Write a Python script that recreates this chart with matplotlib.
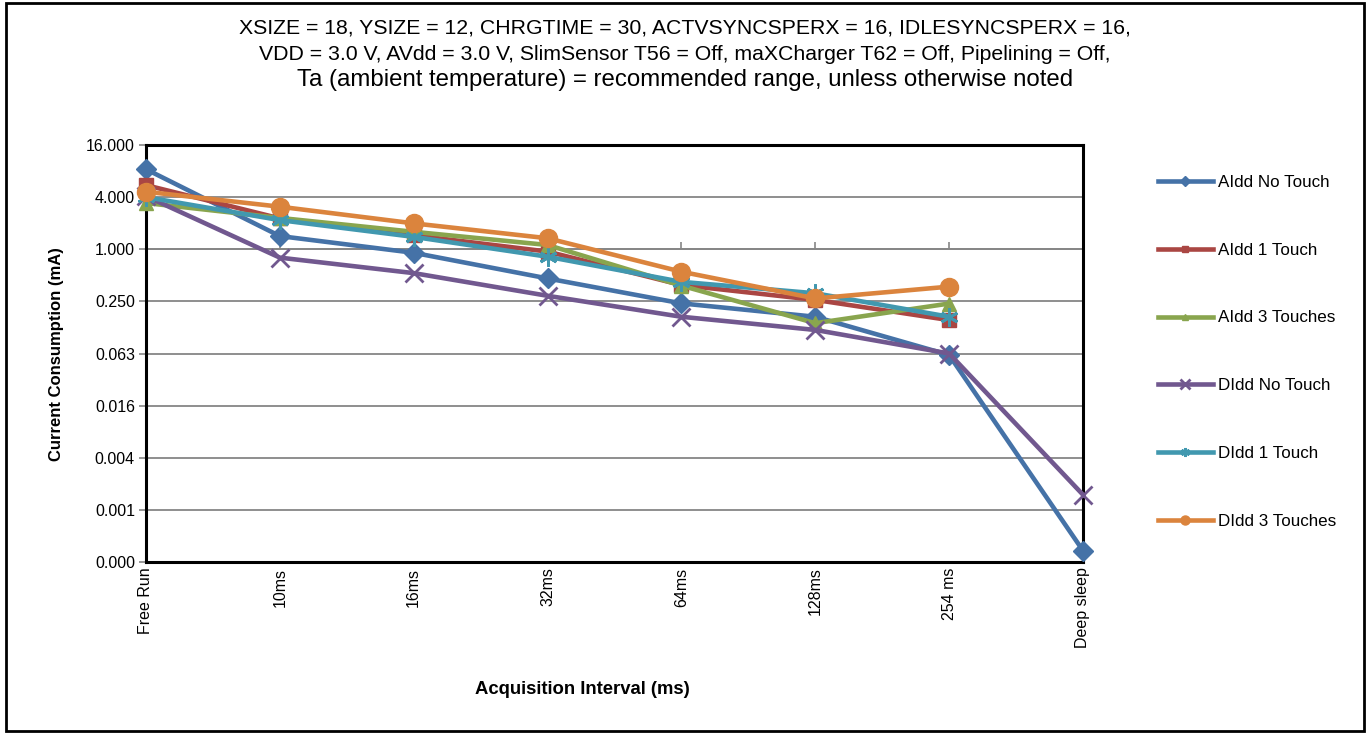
import numpy as np
import matplotlib
matplotlib.use('Agg')
import matplotlib.pyplot as plt
from matplotlib.patches import Rectangle

plt.rcParams['font.family'] = ['Liberation Sans', 'DejaVu Sans']

categories = ['Free Run', '10ms', '16ms', '32ms', '64ms', '128ms', '254 ms', 'Deep sleep']
aidd_no_touch = [8.4, 1.42, 0.91, 0.46, 0.237, 0.166, 0.060, 0.00033]
aidd_1_touch = [5.5, 2.27, 1.45, 0.94, 0.386, 0.26, 0.152, np.nan]
aidd_3_touches = [3.42, 2.3, 1.59, 1.12, 0.38, 0.14, 0.236, np.nan]
didd_no_touch = [4.1, 0.80, 0.53, 0.29, 0.166, 0.117, 0.0625, 0.00146]
didd_1_touch = [4.0, 2.17, 1.39, 0.82, 0.42, 0.31, 0.166, np.nan]
didd_3_touches = [4.62, 3.10, 1.99, 1.34, 0.55, 0.27, 0.37, np.nan]

ytick_vals = [4.0 ** k for k in range(-6, 3)]
ytick_labels = ['0.000', '0.001', '0.004', '0.016', '0.063', '0.250', '1.000', '4.000', '16.000']

title_lines = ['XSIZE = 18, YSIZE = 12, CHRGTIME = 30, ACTVSYNCSPERX = 16, IDLESYNCSPERX = 16,',
               'VDD = 3.0 V, AVdd = 3.0 V, SlimSensor T56 = Off, maXCharger T62 = Off, Pipelining = Off,',
               'Ta (ambient temperature) = recommended range, unless otherwise noted']

series = [
    ('AIdd No Touch', aidd_no_touch, '#4572A7', 'D', 10.5),
    ('AIdd 1 Touch', aidd_1_touch, '#AA4643', 's', 10),
    ('AIdd 3 Touches', aidd_3_touches, '#89A54E', '^', 10),
    ('DIdd No Touch', didd_no_touch, '#71588F', 'x', 13),
    ('DIdd 1 Touch', didd_1_touch, '#4198AF', (6, 2, 0), 13),
    ('DIdd 3 Touches', didd_3_touches, '#DB843D', 'o', 13),
]

W, H = 1369, 734
fig = plt.figure(figsize=(W / 100, H / 100), dpi=100)
ax = fig.add_axes([146 / W, (H - 562) / H, (1083 - 146) / W, (562 - 145) / H])

x = np.arange(len(categories))
for name, vals, col, mk, ms in series:
    ax.plot(x, vals, color=col, lw=3.3, marker=mk, markersize=ms,
            markeredgewidth=2 if mk in ('x', (6, 2, 0)) else 1,
            markeredgecolor=col, label=name, clip_on=False, zorder=3)

ax.set_yscale('log', base=4)
ax.set_ylim(4.0 ** -6, 16)
ax.set_xlim(0, len(categories) - 1)
ax.set_yticks(ytick_vals)
ax.set_yticklabels(ytick_labels, fontsize=11.5)
ax.minorticks_off()
ax.yaxis.grid(True, color='#868686', lw=1.3, zorder=0)
ax.set_axisbelow(True)
ax.tick_params(axis='y', length=5, width=1.2, color='#868686', pad=3)

ax.set_xticks(x)
ax.set_xticklabels(categories, rotation=90, fontsize=11.5, va='top', ha='center')
ax.tick_params(axis='x', length=0, pad=4)

for sp in ax.spines.values():
    sp.set_linewidth(2.2)
    sp.set_color('black')

# horizontal axis crosses at 1.000 (Excel default for log scale)
sec = ax.secondary_xaxis(0.75)
sec.set_xticks(x)
sec.set_xticklabels([])
sec.tick_params(axis='x', length=5, width=1.2, color='#868686', direction='out')
for sp in sec.spines.values():
    sp.set_color('#868686')
    sp.set_linewidth(1.3)

fig.text(57 / W, 1 - 354 / H, 'Current Consumption (mA)', rotation=90, fontsize=12,
         fontweight='bold', ha='center', va='center')
fig.text(582 / W, 1 - 690 / H, 'Acquisition Interval (ms)', fontsize=13.3,
         fontweight='bold', ha='center', va='center')

fig.text(685 / W, 1 - 28 / H, title_lines[0], fontsize=15.3, ha='center', va='center')
fig.text(685 / W, 1 - 55 / H, title_lines[1], fontsize=15.3, ha='center', va='center')
fig.text(685 / W, 1 - 80 / H, title_lines[2], fontsize=17.3, ha='center', va='center')

fig.legend(loc='upper left', bbox_to_anchor=(1158 / W, 1 - 175 / H), frameon=False,
           fontsize=12.25, handlelength=3.23, labelspacing=3.10, markerscale=0.5,
           handletextpad=0.3, borderaxespad=0, borderpad=0)

fig.patches.append(Rectangle((6 / W, 3 / H), (1364 - 6) / W, (731 - 3) / H,
                             transform=fig.transFigure, fill=False, ec='black', lw=2))

fig.savefig('out.png', dpi=100)
